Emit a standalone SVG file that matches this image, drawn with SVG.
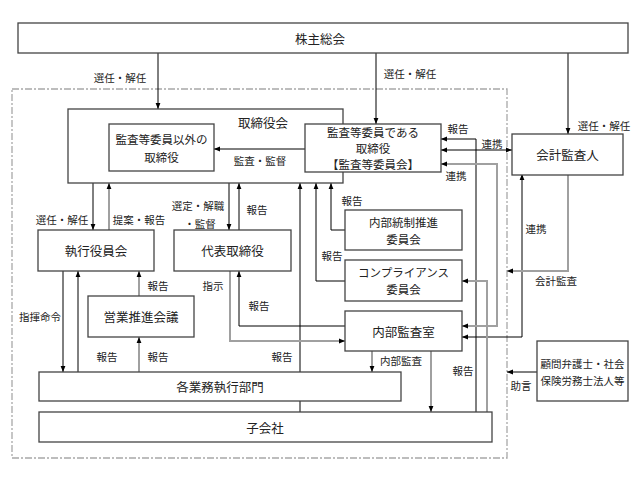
<svg xmlns="http://www.w3.org/2000/svg" width="640" height="480" viewBox="0 0 640 480">
<defs>
<marker id="ah" viewBox="0 0 8 8" refX="8" refY="4" markerWidth="6" markerHeight="6" orient="auto-start-reverse" markerUnits="userSpaceOnUse"><path d="M0,0.8 L8,4 L0,7.2 z" fill="#000"/></marker>
<marker id="ahg" viewBox="0 0 8 8" refX="8" refY="4" markerWidth="6" markerHeight="6" orient="auto-start-reverse" markerUnits="userSpaceOnUse"><path d="M0,0.8 L8,4 L0,7.2 z" fill="#000"/></marker>
<style>
.box{fill:#fff;stroke:#444;stroke-width:1.3}
.bx{fill:none;stroke:#444;stroke-width:1.3}
.t{font-family:"Noto Sans CJK JP","Noto Sans CJK SC",sans-serif;font-size:12.5px;fill:#222;text-anchor:middle;dominant-baseline:central}
.m{font-family:"Noto Sans CJK JP","Noto Sans CJK SC",sans-serif;font-size:11.5px;fill:#222;text-anchor:middle;dominant-baseline:central}
.l{font-family:"Noto Sans CJK JP","Noto Sans CJK SC",sans-serif;font-size:10.5px;fill:#222;text-anchor:middle;dominant-baseline:central}
.s{font-family:"Noto Sans CJK JP","Noto Sans CJK SC",sans-serif;font-size:10.5px;fill:#222;text-anchor:middle;dominant-baseline:central}
.k{fill:none;stroke:#000;stroke-width:1}
.g{fill:none;stroke:#a0a0a0;stroke-width:2}
.ka{marker-end:url(#ah)}
.kb{marker-start:url(#ah);marker-end:url(#ah)}
.ga{marker-end:url(#ahg)}
.gb{marker-start:url(#ahg);marker-end:url(#ahg)}
.dash{fill:none;stroke:#a8a8a8;stroke-width:1.3;stroke-dasharray:7 2 2 2}
</style>
</defs>
<rect x="0" y="0" width="640" height="480" fill="#fff"/>
<rect class="dash" x="12" y="89" width="495" height="369"/>
<g id="connectors">
<path class="k ka" d="M158,53 V109"/>
<path class="k ka" d="M376,53 V124"/>
<path class="k ka" d="M568,53 V134"/>
<path class="k ka" d="M305,149 H214"/>
<path class="k ka" d="M93,183 V230"/>
<path class="g ga" d="M109,230 V183"/>
<path class="k ka" d="M229,183 V230"/>
<path class="k ka" d="M239,230 V183"/>
<path class="k ka" d="M300,412 V183"/>
<path class="k ka" d="M345,281 H316 V183"/>
<path class="k ka" d="M345,230 H331 V183"/>
<path class="k ka" d="M476,412 V139 H441"/>
<path class="k kb" d="M441,150 H512"/>
<path class="g gb" d="M462,326 H497 V164 H441"/>
<path class="k kb" d="M462,337 H522 V174"/>
<path class="g ga" d="M568,174 V271 H507"/>
<path class="k ka" d="M537,372 H507"/>
<path class="g ga" d="M487,412 V281 H462"/>
<path class="g ga" d="M372,351 V372"/>
<path class="g ga" d="M431,351 V412"/>
<path class="k ka" d="M63,271 V372"/>
<path class="k ka" d="M78,372 V271"/>
<path class="g ga" d="M139,296 V271"/>
<path class="g ga" d="M139,372 V337"/>
<path class="g ga" d="M230,271 V341 H345"/>
<path class="k ka" d="M345,326 H239 V271"/>
</g>
<g id="labels">
<text class="l" x="120" y="77">選任・解任</text>
<text class="l" x="410" y="73">選任・解任</text>
<text class="l" x="604" y="125">選任・解任</text>
<text class="l" x="260" y="160">監査・監督</text>
<text class="l" x="458" y="128">報告</text>
<text class="l" x="492" y="143">連携</text>
<text class="l" x="456" y="175">連携</text>
<text class="l" x="62" y="219">選任・解任</text>
<text class="l" x="139" y="219">提案・報告</text>
<text class="l" x="198" y="205">選定・解職</text>
<text class="l" x="200" y="223">・監督</text>
<text class="l" x="257" y="209">報告</text>
<text class="l" x="352" y="200">報告</text>
<text class="l" x="332" y="255">報告</text>
<text class="l" x="536" y="228">連携</text>
<text class="l" x="556" y="280">会計監査</text>
<text class="l" x="40" y="316">指揮命令</text>
<text class="l" x="158" y="285">報告</text>
<text class="l" x="213" y="285">指示</text>
<text class="l" x="259" y="305">報告</text>
<text class="l" x="107" y="356">報告</text>
<text class="l" x="158" y="356">報告</text>
<text class="l" x="282" y="356">報告</text>
<text class="l" x="401" y="360">内部監査</text>
<text class="l" x="463" y="370">報告</text>
<text class="l" x="521" y="385">助言</text>
</g>
<g id="kabunushi"><rect class="box" x="18" y="23" width="610" height="30"/><text class="t" x="320" y="38">株主総会</text></g>
<g id="torishimariyakukai"><rect class="bx" x="68" y="109" width="275" height="74"/><text class="t" x="263" y="122">取締役会</text></g>
<g id="torishimariyaku"><rect class="box" x="109" y="124" width="105" height="47"/><text class="m" x="161.5" y="139">監査等委員以外の</text><text class="m" x="161.5" y="157">取締役</text></g>
<g id="kansa"><rect class="box" x="305" y="124" width="136" height="48"/><text class="m" x="373" y="132">監査等委員である</text><text class="m" x="373" y="148">取締役</text><text class="m" x="373" y="164">【監査等委員会】</text></g>
<g id="kaikei"><rect class="box" x="512" y="134" width="111" height="41"/><text class="t" x="567.5" y="154.5">会計監査人</text></g>
<g id="shikkou"><rect class="box" x="38" y="230" width="116" height="41"/><text class="t" x="96" y="250.5">執行役員会</text></g>
<g id="daihyou"><rect class="box" x="174" y="230" width="117" height="41"/><text class="t" x="232.5" y="250.5">代表取締役</text></g>
<g id="naibutousei"><rect class="box" x="345" y="210" width="117" height="40"/><text class="m" x="403.5" y="221.5">内部統制推進</text><text class="m" x="403.5" y="238.5">委員会</text></g>
<g id="compliance"><rect class="box" x="345" y="260" width="117" height="41"/><text class="m" x="403.5" y="272">コンプライアンス</text><text class="m" x="403.5" y="289">委員会</text></g>
<g id="eigyou"><rect class="box" x="88" y="296" width="106" height="41"/><text class="t" x="141" y="316.5">営業推進会議</text></g>
<g id="naibukansa"><rect class="box" x="345" y="311" width="117" height="40"/><text class="t" x="403.5" y="331">内部監査室</text></g>
<g id="komon"><rect class="box" x="537" y="341" width="91" height="60"/><text class="s" x="582.5" y="363">顧問弁護士・社会</text><text class="s" x="582.5" y="380">保険労務士法人等</text></g>
<g id="kakugyoumu"><rect class="box" x="39" y="372" width="362" height="29"/><text class="t" x="220" y="386.5">各業務執行部門</text></g>
<g id="kogaisha"><rect class="box" x="39" y="412" width="453" height="30"/><text class="t" x="265" y="427">子会社</text></g>
</svg>
